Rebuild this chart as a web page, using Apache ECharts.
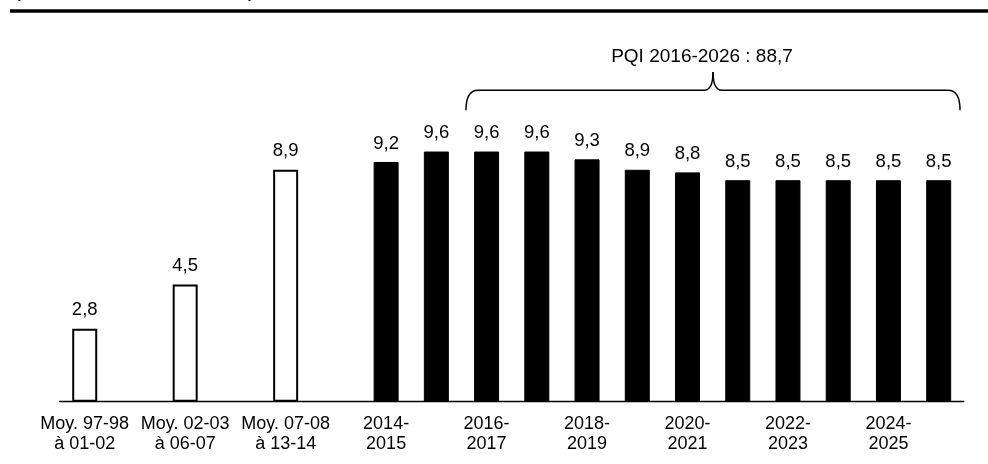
<!DOCTYPE html>
<html>
<head>
<meta charset="utf-8">
<script src="https://cdn.jsdelivr.net/npm/echarts@6/dist/echarts.min.js"></script>
<style>
  html, body { margin: 0; padding: 0; background: #fff; }
  #chart { width: 988px; height: 464px; }
</style>
</head>
<body>
<div id="chart"></div>
<script>
// ── Data ──────────────────────────────────────────────────────────────────────

// historical averages (hollow bars), in billions of $
const averageLabels = ['Moy. 97-98\nà 01-02', 'Moy. 02-03\nà 06-07', 'Moy. 07-08\nà 13-14'];
const averageValues = [2.8, 4.5, 8.9];

// yearly amounts (black bars)
const yearLabels = [
  '2014-\n2015', '2015-\n2016', '2016-\n2017', '2017-\n2018', '2018-\n2019', '2019-\n2020',
  '2020-\n2021', '2021-\n2022', '2022-\n2023', '2023-\n2024', '2024-\n2025', '2025-\n2026'
];
const yearValues = [9.2, 9.6, 9.6, 9.6, 9.3, 8.9, 8.8, 8.5, 8.5, 8.5, 8.5, 8.5];

// the bracket over the PQI years (index range in yearLabels)
const pqiFirst = 2;
const pqiLast  = 11;
const pqiText  = 'PQI 2016-2026 : 88,7';

const subtitleText = '(en milliards de dollars)';

// ── Build categories (a blank slot after each average) ────────────────────────

const categories = [];
const barData = [];
averageLabels.forEach((lab, i) => {
  categories.push(lab);
  barData.push({
    value: averageValues[i],
    itemStyle: { color: '#fff', borderColor: '#000', borderWidth: 2 }
  });
  categories.push(' '.repeat(i + 1));
  barData.push(null);
});
const yearOffset = categories.length;
yearLabels.forEach((lab, i) => {
  categories.push(lab);
  barData.push({
    value: yearValues[i],
    itemStyle: { color: '#000', borderColor: '#000', borderWidth: 1 }
  });
});

const FONT = 'Arial, "Liberation Sans", sans-serif';
const fmt = v => String(v).replace('.', ',');

const chart = echarts.init(document.getElementById('chart'), null, { renderer: 'canvas' });

chart.setOption({
  animation: false,
  backgroundColor: '#fff',
  grid: { left: 59.6, right: 24.2, top: 89, bottom: 62.3, containLabel: false, outerBoundsMode: 'none' },
  xAxis: {
    type: 'category',
    data: categories,
    axisLine: { show: true, lineStyle: { color: '#000', width: 1.3 } },
    axisTick: { show: false },
    axisLabel: {
      interval: 1,
      color: '#000',
      fontFamily: FONT,
      fontSize: 18,
      lineHeight: 20,
      margin: 12
    },
    splitLine: { show: false }
  },
  yAxis: {
    type: 'value',
    min: 0,
    max: 12,
    show: false,
    splitLine: { show: false }
  },
  series: [{
    type: 'bar',
    data: barData,
    barWidth: 25,
    label: {
      show: true,
      position: 'top',
      distance: 9,
      color: '#000',
      fontFamily: FONT,
      fontSize: 18.5,
      formatter: p => fmt(p.value)
    }
  }]
});

// ── Bracket + captions, placed from the axes ──────────────────────────────────

function drawAnnotations() {
  const px = i => chart.convertToPixel({ xAxisIndex: 0 }, i);
  const py = v => chart.convertToPixel({ yAxisIndex: 0 }, v);
  const catW = px(yearOffset + 1) - px(yearOffset);

  const xL = px(yearOffset + pqiFirst) - 0.41 * catW;
  const xR = px(yearOffset + pqiLast) + 0.425 * catW;
  const xM = (xL + xR) / 2;
  const yLine = py(11.95);
  const yTip  = py(11.18);
  const yPeak = py(12.65);
  const r = 12;
  const m = 9;

  const stroke = { stroke: '#000', lineWidth: 1.5, fill: 'none' };
  const curve = (x1, y1, cx, cy, x2, y2) => ({
    type: 'bezierCurve', silent: true,
    shape: { x1, y1, cpx1: cx, cpy1: cy, x2, y2 },
    style: stroke
  });
  const seg = (x1, y1, x2, y2) => ({
    type: 'line', silent: true,
    shape: { x1, y1, x2, y2 },
    style: stroke
  });

  chart.setOption({
    graphic: [
      {
        type: 'rect',
        shape: { x: 10, y: 9.2, width: 978, height: 3.6 },
        style: { fill: '#000' },
        silent: true
      },
      {
        type: 'text',
        style: {
          text: subtitleText,
          x: 13,
          y: 1.8,
          fill: '#000',
          font: `23.5px ${FONT}`,
          verticalAlign: 'bottom'
        },
        silent: true
      },
      curve(xL, yTip, xL, yLine, xL + r, yLine),
      seg(xL + r, yLine, xM - m, yLine),
      curve(xM - m, yLine, xM, yLine, xM, yPeak),
      curve(xM, yPeak, xM, yLine, xM + m, yLine),
      seg(xM + m, yLine, xR - r, yLine),
      curve(xR - r, yLine, xR, yLine, xR, yTip),
      {
        type: 'text',
        silent: true,
        style: {
          text: pqiText,
          x: xM - 11,
          y: py(13.22),
          fill: '#000',
          font: `19px ${FONT}`,
          align: 'center',
          verticalAlign: 'middle'
        }
      }
    ]
  });
}

drawAnnotations();
</script>
</body>
</html>
